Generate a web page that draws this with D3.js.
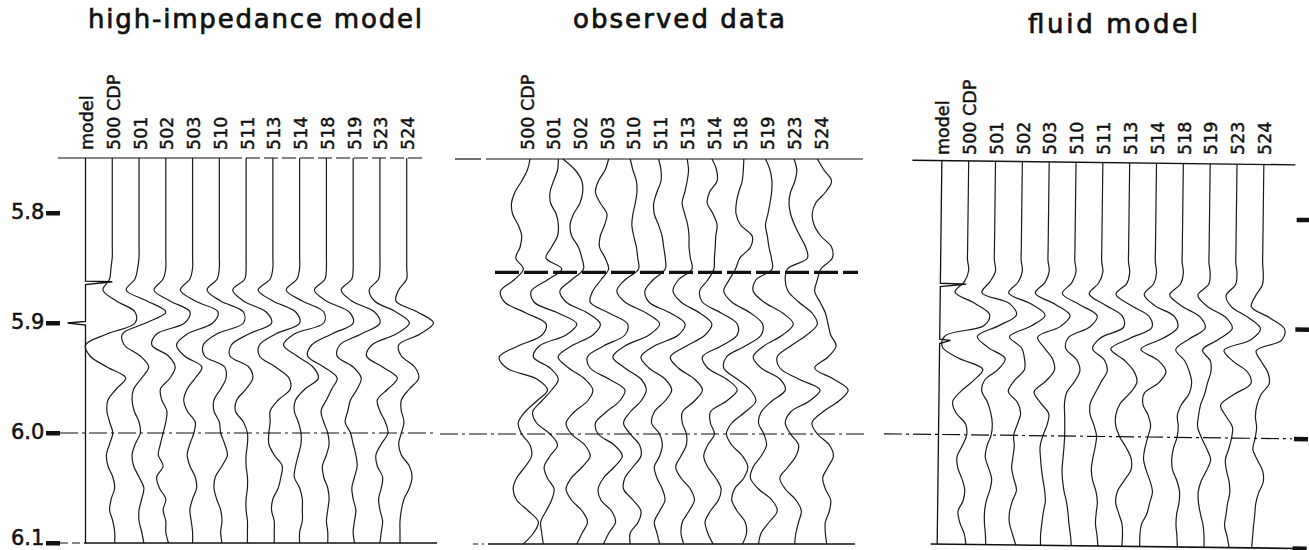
<!DOCTYPE html>
<html>
<head>
<meta charset="utf-8">
<script src="https://cdn.jsdelivr.net/npm/d3@7"></script>
<style>
  body { margin: 0; background: #fff; }
  text { font-family: "DejaVu Sans", sans-serif; fill: #111; stroke: #111; }
</style>
</head>
<body>
<script>
// sample times (s) for every trace
const times = [5.75,5.76,5.77,5.78,5.79,5.80,5.81,5.82,5.83,5.84,5.85,5.86,5.87,5.88,5.89,5.90,5.91,5.92,
  5.93,5.94,5.95,5.96,5.97,5.98,5.99,6.00,6.01,6.02,6.03,6.04,6.05,6.06,6.07,6.08,6.09,6.10];

const cdpLabels = ['500 CDP','501','502','503','510','511','513','514','518','519','523','524'];
const panelTitles = ['high-impedance model', 'observed data', 'fluid model'];
const tickTimes = [5.8, 5.9, 6.0, 6.1];
const tickLabels = ['5.8', '5.9', '6.0', '6.1'];
const horizonTime = 5.853;   // thick dashed pick on observed data

// model (reflectivity) traces: [time, amplitude]
const hiModel = [[5.75,0],[5.862,0],[5.8625,1.0],[5.865,0],[5.8985,0],[5.9,-0.67],[5.902,0],[6.1,0]];
const fluidModel = [[5.75,0],[5.862,0],[5.8625,0.97],[5.865,0],[5.913,0],[5.914,0.4],[5.917,0],[6.1,0]];

// trace amplitudes, in trace spacings, one row per CDP
const hiImpedance = [
  [0,0,0,0,0,0,0,0,0,0,-0.05,-0.1,-0.35,0.15,0.85,0.85,-0.2,-1.0,-0.83,-0.2,0.5,0.15,-0.16,-0.2,-0.1,0.02,-0.1,-0.22,-0.16,0.02,0.09,-0.04,-0.1,0.02,0.09,0.09],
  [0,0,0,0,0,0,0,0,0,0,-0.05,-0.15,-0.48,0.3,1.0,0.25,-0.62,-0.55,0.05,0.36,0.1,-0.2,-0.26,-0.18,0,0.05,-0.14,-0.26,-0.2,0,0.18,0.1,0,0,0.1,0.18],
  [0,0,0,0,0,0,0,0,0,0,0,-0.1,-0.44,0.16,0.9,0.7,-0.34,-0.52,0.1,0.35,0.16,-0.2,-0.15,0.04,0,-0.1,-0.2,-0.28,-0.1,-0.34,-0.24,0,-0.1,0,0,0.1],
  [0,0,0,0,0,0,0,0,0,0,0,-0.1,-0.46,0.1,0.95,0.75,-0.2,-0.6,-0.3,0.35,0.1,-0.2,-0.33,-0.2,0.1,0.05,-0.1,-0.2,-0.1,0.1,0.15,0,-0.1,-0.05,0,0],
  [0,0,0,0,0,0,0,0,0,0,0,-0.08,-0.46,0.05,0.9,0.9,-0.1,-0.6,-0.55,0.2,0.25,0.05,-0.2,-0.2,0,0.05,0.2,0.3,0.1,-0.15,-0.2,-0.1,0.05,0.1,0.05,0.1],
  [0,0,0,0,0,0,0,0,0,0,0,-0.05,-0.5,-0.1,0.75,0.95,0.1,-0.55,-0.6,0.1,0.25,0,-0.35,-0.4,-0.1,0.05,0.05,0,0,0.05,0.05,0,0,0.05,0.05,0.05],
  [0,0,0,0,0,0,0,0,0,0,0,-0.1,-0.55,0,0.85,1.0,0.1,-0.5,-0.5,0.1,0.6,0.65,0.2,-0.1,-0.1,-0.15,-0.15,0.05,0.35,0.3,0.2,0,-0.05,0.05,0.05,0.05],
  [0,0,0,0,0,0,0,0,0,0,0,-0.1,-0.5,0.1,0.9,0.9,-0.2,-0.6,-0.1,0.5,0.7,0.2,-0.15,-0.2,-0.05,0.05,0.05,-0.05,-0.15,-0.2,0,0.1,0.1,0.1,0,0],
  [0,0,0,0,0,0,0,0,0,0,0,-0.05,-0.45,0,0.85,1.0,0.2,-0.55,-0.7,-0.1,0.4,0.2,0,-0.2,-0.1,0.05,0.1,0,-0.15,-0.1,0.05,0.1,0.05,0,0.05,0.05],
  [0,0,0,0,0,0,0,0,0,0,0,-0.05,-0.45,-0.05,0.8,1.0,0.3,-0.5,-0.6,0,0.3,0.15,-0.1,-0.2,-0.3,-0.1,0,0.1,0.15,0.05,-0.05,0,0.1,0.05,0,0.05],
  [0,0,0,0,0,0,0,0,0,0,0,-0.05,-0.4,-0.2,0.6,1.1,0.6,-0.3,-0.5,0.1,0.65,0.3,-0.1,0,0.2,0.3,0.05,-0.15,-0.1,0.1,0.05,-0.05,0,0.1,0.05,0],
  [0,0,0,0,0,0,0,0,0,0,0,0,-0.3,-0.4,0.4,1.0,0.5,-0.3,-0.2,0.3,0.45,0.1,-0.2,-0.2,-0.1,-0.2,-0.3,-0.2,0.1,0.2,0.1,-0.1,-0.2,-0.25,-0.25,-0.25]
];

const observed = [
  [0.15,0.05,-0.16,-0.41,-0.54,-0.5,-0.29,-0.16,-0.22,-0.38,-0.1,-0.45,-0.95,-0.8,0,0.75,0.6,-0.3,-1.0,-0.72,0.4,0.8,0.4,-0.04,-0.29,-0.16,0.15,0.21,-0.04,-0.35,-0.48,-0.35,0.09,0.46,0.28,-0.1],
  [0.21,0.18,0.03,-0.1,-0.08,0.13,0.21,0.18,-0.04,-0.25,0.34,-0.2,-0.8,-0.7,0.2,0.9,0.5,-0.5,-0.72,-0.1,0.21,-0.04,-0.41,-0.75,-0.6,-0.1,0.18,-0.1,-0.32,-0.2,0.05,-0.04,-0.25,-0.45,-0.41,-0.35],
  [-0.62,-0.16,0.09,0.12,0.02,-0.22,-0.35,-0.29,-0.04,0.09,0.15,-0.3,-0.73,-0.5,0.3,0.78,0.5,-0.3,-0.8,-0.4,0.2,0.5,0.3,-0.2,-0.5,-0.3,0.2,0.4,0.1,-0.3,-0.5,-0.3,0.1,0.3,0.1,-0.1],
  [0.09,-0.04,-0.29,-0.4,-0.22,0.03,-0.06,-0.22,-0.25,-0.04,0.09,-0.2,-0.5,-0.6,0.1,0.8,0.7,-0.1,-0.7,-0.6,0.1,0.7,0.5,0,-0.4,-0.3,0.3,0.6,0.3,-0.1,-0.3,-0.2,0.2,0.35,0.1,-0.1],
  [-0.1,0,0.13,0.15,0.09,0,-0.04,0.03,0.13,0.18,0.21,-0.3,-0.6,-0.3,0.5,1.0,0.6,-0.3,-0.75,-0.3,0.3,0.5,0.3,-0.1,-0.35,-0.1,0.25,0.3,0,-0.3,-0.35,0,0.3,0.2,-0.1,-0.1],
  [-0.04,0.05,0.05,-0.1,-0.22,-0.2,-0.04,0.09,0.15,0.21,0.21,-0.25,-0.55,-0.4,0.4,0.95,0.7,-0.2,-0.7,-0.4,0.2,0.45,0.2,-0.2,-0.3,0,0.1,0,-0.2,-0.1,0.1,0.2,0,-0.2,-0.1,0],
  [0.03,0.08,0.03,-0.06,-0.16,-0.06,0.05,0.1,0.1,0.15,0.21,-0.3,-0.5,-0.2,0.5,0.95,0.7,0,-0.6,-0.3,0.3,0.6,0.3,-0.15,-0.15,0,0,-0.2,-0.4,-0.2,0.15,0.3,0.1,-0.15,-0.2,-0.1],
  [-0.04,0.13,0.15,-0.13,-0.22,0,0.15,0.1,0.08,0.05,0.03,-0.2,-0.5,-0.4,0.3,0.9,0.9,0.3,-0.4,-0.2,0.5,0.9,0.5,-0.1,-0.1,0.05,-0.2,-0.35,-0.2,0.1,0.3,0.2,-0.1,-0.3,-0.2,0],
  [0.15,0.13,0.09,-0.04,-0.13,-0.14,0.03,0.46,0.4,0,-0.16,-0.4,-0.6,-0.3,0.4,0.85,0.8,0.2,-0.5,-0.6,-0.1,0.4,0.6,0.2,-0.3,-0.5,-0.3,0.1,0.3,0.15,-0.2,-0.3,-0.1,0.2,0.25,0.1],
  [-0.04,0.13,0.2,0.19,0.13,0.05,-0.04,0.03,0.09,0.18,0.21,-0.4,-0.5,-0.1,0.6,1.0,0.6,-0.1,-0.5,-0.2,0.5,0.7,0.2,-0.2,-0.3,-0.1,0,-0.2,-0.5,-0.6,-0.3,0.2,0.4,0.1,-0.2,-0.3],
  [0.03,0.13,0.06,-0.1,-0.16,-0.1,0.05,0.25,0.46,0.53,-0.22,-0.3,-0.2,0.2,0.7,0.9,0.5,-0.1,-0.6,-0.5,0.2,1.0,0.6,-0.1,-0.3,-0.1,0.2,0.1,-0.2,-0.5,-0.3,0.1,0.3,0.2,0.1,0.05],
  [-0.1,0.15,0.43,0.21,-0.16,-0.29,-0.22,0.03,0.43,0.46,0.03,-0.1,-0.2,0,0.2,0.3,0.4,0.6,0.3,-0.2,0.5,1.05,0.7,0.1,-0.3,-0.1,0.35,0.5,0.3,0.1,0.2,0.4,0.35,0.2,0.2,0.25]
];

const fluid = [
  [0,0,0,0,0,0,0,0,0,0,0.05,-0.1,-0.45,0.3,0.85,0.65,-0.8,-0.9,-0.3,0.62,0.3,-0.17,-0.49,-0.36,0,0.05,-0.11,-0.3,-0.27,-0.11,0,-0.05,-0.24,-0.17,0,0.07],
  [0,0,0,0,0,0,0,0,0,0,0.05,-0.15,-0.45,0.6,0.85,0.2,-0.6,-0.2,0.45,0.19,-0.31,-0.41,-0.19,-0.06,0,-0.04,-0.19,-0.25,-0.12,0,-0.06,-0.19,-0.25,-0.25,-0.21,-0.19],
  [0,0,0,0,0,0,0,0,0,0,0.05,-0.1,-0.45,0.4,0.92,0.4,-0.4,0.05,0.17,0.17,-0.2,-0.42,-0.07,0.05,-0.07,-0.2,-0.17,-0.22,-0.26,-0.17,-0.07,-0.22,-0.32,-0.32,-0.2,-0.07],
  [0,0,0,0,0,0,0,0,0,0,0.05,-0.1,-0.46,0.3,0.85,0.5,-0.35,-0.09,0.22,0.29,-0.02,-0.46,-0.21,0.1,0.04,-0.11,-0.21,-0.19,-0.15,-0.09,-0.02,0.01,-0.06,-0.11,-0.15,-0.15],
  [0,0,0,0,0,0,0,0,0,0,0.05,-0.1,-0.45,0.2,0.86,0.6,-0.2,-0.3,0.11,0.24,0.05,-0.24,-0.32,-0.31,-0.3,-0.3,-0.32,-0.35,-0.38,-0.36,-0.3,-0.2,-0.14,-0.1,-0.04,0],
  [0,0,0,0,0,0,0,0,0,0,0.05,-0.1,-0.45,0.15,0.8,0.85,0,-0.3,0.14,0.26,0.04,-0.17,-0.36,-0.36,-0.21,-0.11,-0.16,-0.24,-0.29,-0.24,-0.11,-0.05,-0.09,-0.11,-0.05,-0.01],
  [0,0,0,0,0,0,0,0,0,0,0.05,-0.05,-0.45,0.1,0.8,0.9,0.1,-0.62,-0.12,0.25,0.37,0.12,-0.25,-0.4,-0.4,-0.25,0,0.19,0.19,-0.06,-0.31,-0.37,-0.25,-0.12,-0.1,-0.12],
  [0,0,0,0,0,0,0,0,0,0,0.05,-0.05,-0.4,0,0.75,0.86,0.3,-0.5,0.15,0.45,0.2,-0.35,-0.4,-0.2,-0.1,-0.2,-0.3,-0.35,-0.25,-0.1,0,-0.1,-0.2,-0.4,-0.45,-0.45],
  [0,0,0,0,0,0,0,0,0,0,0.05,-0.05,-0.45,0,0.7,0.89,0.3,-0.2,0.14,0.32,0.41,0.32,0.04,-0.11,-0.07,-0.11,-0.24,-0.3,-0.26,-0.09,0.01,-0.01,-0.09,-0.11,-0.07,-0.05],
  [0,0,0,0,0,0,0,0,0,0,0.05,0,-0.4,-0.05,0.65,0.9,0.4,-0.2,0.1,0.12,0,-0.1,-0.25,-0.32,-0.35,-0.2,0,0.15,0,-0.2,-0.3,-0.28,-0.2,-0.1,-0.06,-0.06],
  [0,0,0,0,0,0,0,0,0,0,0.05,0,-0.35,-0.15,0.5,0.95,0.6,-0.4,-0.05,0.5,0.62,0,-0.5,-0.3,-0.05,-0.08,-0.18,-0.3,-0.25,-0.15,-0.12,-0.2,-0.25,-0.3,-0.2,-0.12],
  [0,0,0,0,0,0,0,0,0,0,0.03,0,-0.25,-0.4,0.3,0.85,0.75,-0.2,0,0.25,0.3,0,-0.15,-0.2,-0.15,-0.2,-0.28,-0.1,0.1,0.12,-0.05,-0.15,-0.18,-0.22,-0.25,-0.28]
];

const width = 1309, height = 550;
const svg = d3.select('body').append('svg').attr('width', width).attr('height', height);

const panels = [
  { title: panelTitles[0], titleX: 255, titleY: 28, titleLen: 334, traces: hiImpedance, model: hiModel,
    x: d3.scaleLinear().domain([0, 12]).range([85.5, 406.7]),
    y: d3.scaleLinear().domain([5.75, 6.1]).range([158, 543]), tilt: 0, labelY: 150, labelDx: 0 },
  { title: panelTitles[1], titleX: 679, titleY: 28, titleLen: 212, traces: observed, model: null,
    x: d3.scaleLinear().domain([1, 12]).range([526, 820]),
    y: d3.scaleLinear().domain([5.75, 6.1]).range([159, 544]), tilt: 0, labelY: 150, labelDx: 0 },
  { title: panelTitles[2], titleX: 1113, titleY: 33, titleLen: 170, traces: fluid, model: fluidModel,
    x: d3.scaleLinear().domain([0, 12]).range([939.5, 1261.5]),
    y: d3.scaleLinear().domain([5.75, 6.1]).range([162.5, 546]), tilt: 0.7, labelY: 155, labelDx: 2 }
];

const ampScale = d3.scaleLinear().domain([-1, 1]).range([-26.8, 26.8]);

panels.forEach((p, pi) => {
  // title
  svg.append('text')
    .attr('x', p.titleX).attr('y', p.titleY)
    .attr('text-anchor', 'middle')
    .attr('font-size', 26)
    .attr('stroke-width', 0.7)
    .attr('textLength', p.titleLen).attr('lengthAdjust', 'spacing')
    .text(p.title);

  // trace labels (rotated)
  const labels = (p.model ? ['model'] : []).concat(cdpLabels);
  const first = p.model ? 0 : 1;
  labels.forEach((lab, k) => {
    const lx = p.x(first + k) + 7.5 + p.labelDx;
    svg.append('text')
      .attr('transform', `translate(${lx},${p.labelY}) rotate(-90)`)
      .attr('font-size', 17.5)
      .attr('stroke-width', 0.45)
      .text(lab);
  });

  const g = svg.append('g');
  if (p.tilt) g.attr('transform', `rotate(${p.tilt},1100,355)`);

  const line = d3.line()
    .x(d => d.x)
    .y(d => d.y)
    .curve(d3.curveCatmullRom.alpha(0.5));

  // model trace
  if (p.model) {
    const mx = p.x(0);
    g.append('path')
      .attr('d', d3.line().x(d => mx + ampScale(d[1])).y(d => p.y(d[0]))(p.model))
      .attr('fill', 'none').attr('stroke', '#111').attr('stroke-width', 1.3);
  }

  // wiggle traces
  p.traces.forEach((row, k) => {
    const bx = p.x(k + 1);
    const pts = row.map((a, i) => ({ x: bx + ampScale(a), y: p.y(times[i]) }));
    g.append('path')
      .attr('d', line(pts))
      .attr('fill', 'none')
      .attr('stroke', '#1a1a1a')
      .attr('stroke-width', 1.2);
  });

  p.g = g;
});

// frame lines and time axis
const [p1, p2, p3] = panels;
const dashDot = '18 4 3 4';

function hline(g, x1, x2, y, opts) {
  g.append('line').attr('x1', x1).attr('x2', x2).attr('y1', y).attr('y2', y)
    .attr('stroke', '#111')
    .attr('stroke-width', opts && opts.w ? opts.w : 1.2)
    .attr('stroke-dasharray', opts && opts.dash ? opts.dash : null);
}

// panel 1
hline(p1.g, 58, 228, p1.y(5.75));
hline(p1.g, 228, 425, p1.y(5.75), { dash: '14 4' });
hline(p1.g, 60, 437, p1.y(6.0), { dash: dashDot });
hline(p1.g, 60, 84, p1.y(6.1), { dash: '8 4' });
hline(p1.g, 84, 437, p1.y(6.1), { w: 1.4 });

tickTimes.forEach((t, i) => {
  svg.append('rect').attr('x', 46).attr('y', p1.y(t) - 2).attr('width', 14).attr('height', 4.5).attr('fill', '#111');
  // keep the lowest label inside the picture
  svg.append('text').attr('x', 11).attr('y', Math.min(p1.y(t) + 5.5, 545))
    .attr('font-size', 21).attr('stroke-width', 0.5).text(tickLabels[i]);
});

// panel 2
hline(p2.g, 455, 481, p2.y(5.75));
hline(p2.g, 486, 863, p2.y(5.75));
hline(p2.g, 495, 858, p2.y(horizonTime), { w: 3.2, dash: '24 5' });
hline(p2.g, 440, 868, p2.y(6.0), { dash: dashDot });
hline(p2.g, 473, 484, p2.y(6.1), { dash: '5 4' });
hline(p2.g, 488, 855, p2.y(6.1), { w: 1.4 });

// panel 3
hline(p3.g, 910, 1293, p3.y(5.75), { w: 1.4 });
hline(p3.g, 885, 1293, p3.y(6.0), { dash: dashDot });
hline(p3.g, 933, 1300, p3.y(6.1), { w: 1.6 });
tickTimes.forEach(t => {
  p3.g.append('rect').attr('x', 1295).attr('y', p3.y(t) - 2).attr('width', 14).attr('height', 4.5).attr('fill', '#111');
});
</script>
</body>
</html>
